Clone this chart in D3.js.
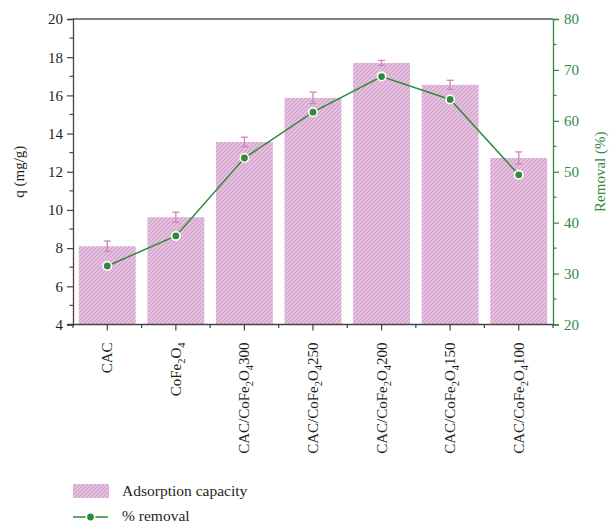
<!DOCTYPE html>
<html>
<head>
<meta charset="utf-8">
<script src="https://cdn.jsdelivr.net/npm/d3@7"></script>
<style>
  html, body { margin: 0; padding: 0; background: #fff; }
  text { font-family: "Liberation Serif", "DejaVu Serif", serif; }
</style>
</head>
<body>
<svg id="chart" width="614" height="523"></svg>
<script>
// Sample names; each part is [text, isSubscript]
const categories = [
  [["CAC", false]],
  [["CoFe", false], ["2", true], ["O", false], ["4", true]],
  [["CAC/CoFe", false], ["2", true], ["O", false], ["4", true], ["300", false]],
  [["CAC/CoFe", false], ["2", true], ["O", false], ["4", true], ["250", false]],
  [["CAC/CoFe", false], ["2", true], ["O", false], ["4", true], ["200", false]],
  [["CAC/CoFe", false], ["2", true], ["O", false], ["4", true], ["150", false]],
  [["CAC/CoFe", false], ["2", true], ["O", false], ["4", true], ["100", false]]
];
const capacity = [8.10, 9.62, 13.56, 15.87, 17.70, 16.55, 12.72];      // q (mg/g)
const capacityErr = [0.27, 0.26, 0.25, 0.30, 0.13, 0.24, 0.32];
const removal = [31.5, 37.4, 52.7, 61.7, 68.7, 64.2, 49.4];             // %
const leftTicks = [4, 6, 8, 10, 12, 14, 16, 18, 20];
const rightTicks = [20, 30, 40, 50, 60, 70, 80];

const svg = d3.select("#chart");
const m = { left: 73, right: 553, top: 19, bottom: 324.5 };
const ink = "#231f20", green = "#2f8a3c", barFill = "#e4bfdd", hatch = "#cf9ac9", errCol = "#c983bd";
const fs = 15;

const x = d3.scaleBand().domain(d3.range(categories.length)).range([m.left, m.right]).paddingInner(0.17).paddingOuter(0.085);
const xc = d3.scaleBand().domain(d3.range(categories.length)).range([m.left, m.right]);
const yL = d3.scaleLinear().domain([4, 20]).range([m.bottom, m.top]);
const yR = d3.scaleLinear().domain([20, 80]).range([m.bottom, m.top]);

// Hatch pattern
const defs = svg.append("defs");
const pat = defs.append("pattern").attr("id", "hatch").attr("patternUnits", "userSpaceOnUse")
  .attr("width", 4).attr("height", 4);
pat.append("rect").attr("width", 4).attr("height", 4).attr("fill", barFill);
pat.append("path").attr("d", "M-1,1 l2,-2 M0,4 l4,-4 M3,5 l2,-2").attr("stroke", hatch).attr("stroke-width", 1);

// Bars
svg.append("g").selectAll("rect").data(capacity).join("rect")
  .attr("x", (d, i) => xc(i) + xc.bandwidth() / 2 - x.bandwidth() / 2)
  .attr("width", x.bandwidth())
  .attr("y", d => yL(d))
  .attr("height", d => yL(4) - yL(d))
  .attr("fill", "url(#hatch)");

// Error bars
const eg = svg.append("g").attr("stroke", errCol).attr("stroke-width", 1.3).attr("fill", "none");
capacity.forEach((d, i) => {
  const cx = xc(i) + xc.bandwidth() / 2;
  const e = capacityErr[i];
  eg.append("line").attr("x1", cx).attr("x2", cx).attr("y1", yL(d + e)).attr("y2", yL(d - e));
  eg.append("line").attr("x1", cx - 3.5).attr("x2", cx + 3.5).attr("y1", yL(d + e)).attr("y2", yL(d + e));
  eg.append("line").attr("x1", cx - 3.5).attr("x2", cx + 3.5).attr("y1", yL(d - e)).attr("y2", yL(d - e));
});

// Frame top
svg.append("line").attr("x1", m.left).attr("x2", m.right).attr("y1", m.top).attr("y2", m.top)
  .attr("stroke", "#555").attr("stroke-width", 1.3);

// Left axis
const gL = svg.append("g").attr("transform", `translate(${m.left},0)`)
  .call(d3.axisLeft(yL).tickValues(leftTicks).tickSize(6).tickPadding(4).tickFormat(d3.format("d")));
gL.select(".domain").attr("stroke", "#444").attr("stroke-width", 1.3);
gL.selectAll(".tick line").attr("stroke", "#444").attr("stroke-width", 1.2);
gL.selectAll(".tick text").attr("fill", ink).attr("font-size", fs).attr("font-family", "Liberation Serif");
gL.append("g").selectAll("line").data(d3.range(5, 20, 2)).join("line")
  .attr("x1", -3.5).attr("x2", 0).attr("y1", d => yL(d)).attr("y2", d => yL(d))
  .attr("stroke", "#444").attr("stroke-width", 1.2);

// Right axis
const gR = svg.append("g").attr("transform", `translate(${m.right},0)`)
  .call(d3.axisRight(yR).tickValues(rightTicks).tickSize(6).tickPadding(5).tickFormat(d3.format("d")));
gR.select(".domain").attr("stroke", green).attr("stroke-width", 1.3);
gR.selectAll(".tick line").attr("stroke", green).attr("stroke-width", 1.2);
gR.selectAll(".tick text").attr("fill", green).attr("font-size", fs).attr("font-family", "Liberation Serif");
gR.append("g").selectAll("line").data(d3.range(25, 80, 10)).join("line")
  .attr("x1", 0).attr("x2", 3.5).attr("y1", d => yR(d)).attr("y2", d => yR(d))
  .attr("stroke", green).attr("stroke-width", 1.2);

// Bottom axis
const gB = svg.append("g").attr("transform", `translate(0,${m.bottom})`);
gB.append("line").attr("x1", m.left - 6).attr("x2", m.right).attr("stroke", "#444").attr("stroke-width", 1.3);
gB.selectAll(".maj").data(d3.range(categories.length)).join("line").attr("class", "maj")
  .attr("x1", i => xc(i) + xc.bandwidth() / 2).attr("x2", i => xc(i) + xc.bandwidth() / 2)
  .attr("y1", 0).attr("y2", 6).attr("stroke", "#444").attr("stroke-width", 1.2);
gB.selectAll(".min").data(d3.range(categories.length + 1)).join("line").attr("class", "min")
  .attr("x1", i => m.left + i * xc.step()).attr("x2", i => m.left + i * xc.step())
  .attr("y1", 0).attr("y2", 3.5).attr("stroke", "#444").attr("stroke-width", 1.2);

// Category labels (rotated)
categories.forEach((parts, i) => {
  const cx = xc(i) + xc.bandwidth() / 2;
  const t = svg.append("text")
    .attr("transform", `translate(${cx + 5},${m.bottom + 18}) rotate(-90)`)
    .attr("text-anchor", "end").attr("font-size", fs).attr("fill", ink);
  parts.forEach(([s, sub]) => {
    const ts = t.append("tspan").text(s);
    if (sub) ts.attr("font-size", 10.5).attr("baseline-shift", "-3.5");
  });
});

// Removal line
const line = d3.line().x((d, i) => xc(i) + xc.bandwidth() / 2).y(d => yR(d));
svg.append("path").datum(removal).attr("d", line).attr("fill", "none")
  .attr("stroke", green).attr("stroke-width", 1.5);
svg.append("g").selectAll("circle").data(removal).join("circle")
  .attr("cx", (d, i) => xc(i) + xc.bandwidth() / 2).attr("cy", d => yR(d))
  .attr("r", 4.2).attr("fill", green).attr("stroke", "#fff").attr("stroke-width", 1.6);

// Axis titles
svg.append("text").attr("transform", `translate(24,${(m.top + m.bottom) / 2}) rotate(-90)`)
  .attr("text-anchor", "middle").attr("font-size", fs).attr("fill", ink).text("q (mg/g)");
svg.append("text").attr("transform", `translate(605,${(m.top + m.bottom) / 2}) rotate(-90)`)
  .attr("text-anchor", "middle").attr("font-size", fs).attr("fill", green).text("Removal (%)");

// Legend
const lg = svg.append("g");
lg.append("rect").attr("x", 73).attr("y", 484).attr("width", 36).attr("height", 14).attr("fill", "url(#hatch)");
lg.append("text").attr("x", 122).attr("y", 496).attr("font-size", 15.5).attr("fill", ink).text("Adsorption capacity");
lg.append("line").attr("x1", 73).attr("x2", 108).attr("y1", 517).attr("y2", 517).attr("stroke", green).attr("stroke-width", 1.5);
lg.append("circle").attr("cx", 90.5).attr("cy", 517).attr("r", 4.2).attr("fill", green).attr("stroke", "#fff").attr("stroke-width", 1.6);
lg.append("text").attr("x", 122).attr("y", 521).attr("font-size", 15.5).attr("fill", ink).text("% removal");
</script>
</body>
</html>
